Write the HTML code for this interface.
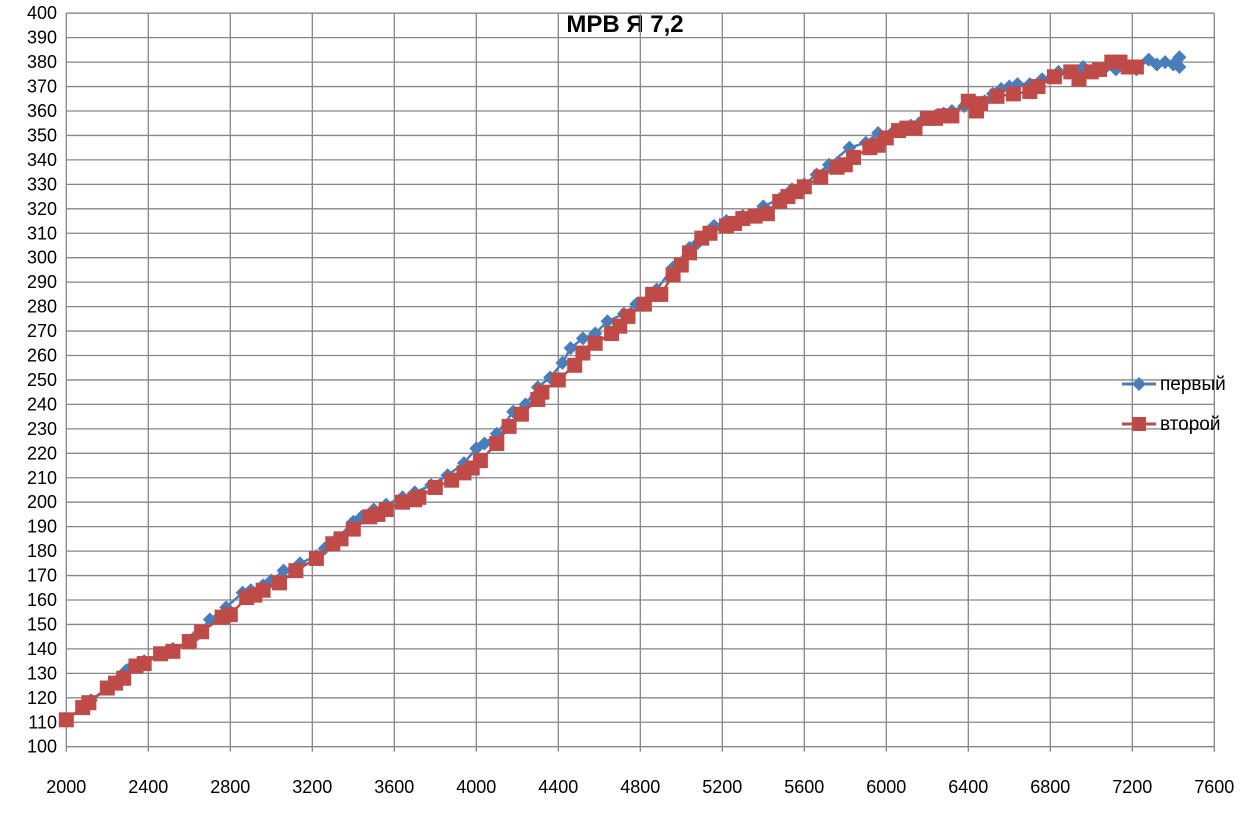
<!DOCTYPE html>
<html><head><meta charset="utf-8"><style>
body{margin:0;background:#fff;}
svg{display:block;font-family:"Liberation Sans","DejaVu Sans",sans-serif;}
</style></head><body>
<svg id="chart" width="1244" height="814">
<text x="625" y="32" text-anchor="middle" font-size="24" font-weight="bold">МРВ Я 7,2</text>
<g id="grid"></g><g id="series"></g><g id="labels"></g>
<g>
<g>
<line x1="1122" y1="384" x2="1156" y2="384" stroke="#4a7ebb" stroke-width="3"/>
<path d="M1139 377 L1146 384 L1139 391 L1132 384Z" fill="#4a7ebb"/>
<text x="1160" y="390" font-size="19">первый</text></g>
<g>
<line x1="1122" y1="424" x2="1156" y2="424" stroke="#be4b48" stroke-width="3"/>
<rect x="1132" y="417" width="14" height="14" fill="#be4b48"/>
<text x="1160" y="430" font-size="19">второй</text></g>
</g>
</svg>
<script>
const xTicks=[2000,2400,2800,3200,3600,4000,4400,4800,5200,5600,6000,6400,6800,7200,7600];
const yTicks=[100,110,120,130,140,150,160,170,180,190,200,210,220,230,240,250,260,270,280,290,300,310,320,330,340,350,360,370,380,390,400];
const redX=[2000,2080,2110,2200,2240,2280,2340,2380,2460,2520,2600,2660,2760,2800,2880,2920,2960,3040,3120,3220,3300,3340,3400,3480,3520,3560,3640,3700,3720,3800,3880,3940,3980,4020,4100,4160,4220,4300,4320,4400,4480,4520,4580,4660,4700,4740,4820,4860,4900,4960,5000,5040,5100,5140,5220,5260,5300,5360,5420,5480,5520,5560,5600,5680,5760,5800,5840,5920,5960,6000,6060,6100,6140,6200,6240,6280,6320,6400,6440,6460,6540,6620,6700,6740,6820,6900,6940,7000,7040,7100,7140,7180,7220];
const redY=[111,116,118,124,126,128,133,134,138,139,143,147,153,154,161,162,164,167,172,177,183,185,189,194,195,197,200,201,202,206,209,212,214,217,224,231,236,242,245,250,256,261,265,269,272,276,281,285,285,293,297,302,308,310,313,314,316,317,318,323,325,327,329,333,337,338,341,345,346,349,352,353,353,357,357,358,358,364,360,363,366,367,368,370,374,376,373,376,377,380,380,378,378];
const blueX=[2000,2080,2120,2200,2260,2290,2320,2380,2460,2520,2600,2640,2700,2780,2860,2900,2960,3000,3060,3140,3220,3260,3320,3400,3440,3500,3560,3640,3700,3780,3860,3940,4000,4040,4100,4180,4240,4300,4360,4420,4460,4520,4580,4640,4720,4780,4880,4960,5040,5080,5160,5220,5300,5400,5480,5540,5600,5660,5720,5820,5900,5960,6040,6120,6160,6240,6280,6320,6380,6440,6480,6520,6560,6600,6640,6700,6760,6840,6920,6960,7020,7060,7120,7160,7220,7280,7320,7360,7400,7430,7430];
const blueY=[111,116,119,124,128,131,133,135,138,140,143,146,152,157,163,164,166,168,172,175,178,181,185,192,194,197,199,202,204,207,211,216,222,224,228,237,240,247,251,257,263,267,269,274,277,281,287,296,304,306,313,315,317,321,324,328,330,334,338,345,347,351,352,354,355,358,359,360,362,363,364,367,369,370,371,371,373,376,376,378,376,377,377,379,377,381,379,380,379,382,378];
const X0=66.3,XS=82/400,Y0=746.7,YS=24.45/10;
const sx=v=>X0+(v-2000)*XS, sy=v=>Y0-(v-100)*YS;
const NS="http://www.w3.org/2000/svg";
function mk(t,a,p){const e=document.createElementNS(NS,t);for(const k in a)e.setAttribute(k,a[k]);p.appendChild(e);return e;}
const grid=document.getElementById('grid'),lab=document.getElementById('labels'),ser=document.getElementById('series');
yTicks.forEach(v=>{
 const l=mk('line',{x1:sx(2000),x2:sx(7600),y1:sy(v),y2:sy(v),stroke:'#868686','stroke-width':1.3},grid);
 
 
 const t=mk('text',{x:57,y:sy(v)+6,'text-anchor':'end','font-size':18},lab);t.textContent=v;
 
 
});
xTicks.forEach(v=>{
 const l=mk('line',{x1:sx(v),x2:sx(v),y1:sy(400),y2:sy(100)+5,stroke:'#868686','stroke-width':1.3},grid);
 
 
 const t=mk('text',{x:sx(v),y:793,'text-anchor':'middle','font-size':18},lab);t.textContent=v;
 
 
});
function draw(xs,ys,color,shape,name){
 const g=mk('g',{},ser);
 
 
 mk('polyline',{points:xs.map((x,i)=>sx(x)+','+sy(ys[i])).join(' '),fill:'none',stroke:color,'stroke-width':2.5},g);
 xs.forEach((x,i)=>{
  const cx=sx(x),cy=sy(ys[i]);let m;
  if(shape==='sq')m=mk('rect',{x:cx-7.5,y:cy-7.5,width:15,height:15,fill:color},g);
  else m=mk('path',{d:`M${cx} ${cy-7}L${cx+7} ${cy}L${cx} ${cy+7}L${cx-7} ${cy}Z`,fill:color},g);
  
  
 });
}
draw(blueX,blueY,'#4a7ebb','dia','series-first');
draw(redX,redY,'#be4b48','sq','series-second');
</script>
</body></html>
